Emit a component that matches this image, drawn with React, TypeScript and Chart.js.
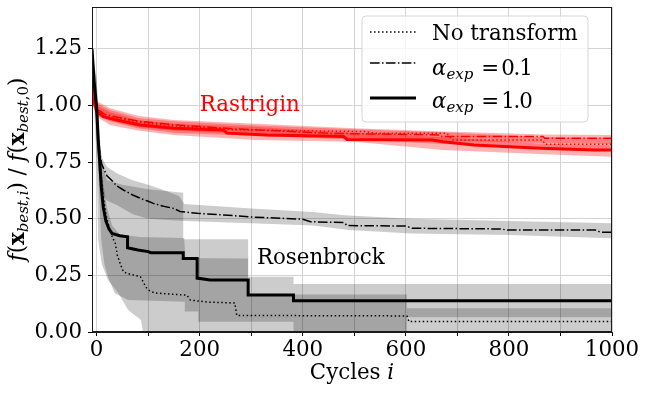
import React, { useEffect, useRef } from 'react';
import { Chart, registerables } from 'chart.js';

Chart.register(...registerables);

const FONT = "'DejaVu Serif', 'Liberation Serif', serif";
const FS = 21.33;
const FS_SUB = 15;

// ---------- axis ticks ----------
const xTickValues = [0, 100, 200, 300, 400, 500, 600, 700, 800, 900, 1000];
const xTickLabels = ['0', '', '200', '', '400', '', '600', '', '800', '', '1000'];
const yTickValues = [0, 0.25, 0.5, 0.75, 1.0, 1.25];
const yTickLabels = ['0.00', '0.25', '0.50', '0.75', '1.00', '1.25'];

// ---------- Rosenbrock (black) ----------
const rosNoX = [-9, -5, 0, 3, 6, 10, 14, 19, 25, 31, 36, 40, 46, 52, 60, 85, 95, 100, 113, 175, 182, 215, 268, 272, 602, 606, 1000];
const rosNoY = [1.25, 1.1, 0.98, 0.87, 0.77, 0.66, 0.58, 0.51, 0.455, 0.415, 0.395, 0.34, 0.3, 0.266, 0.258, 0.244, 0.2, 0.186, 0.172, 0.163, 0.141, 0.132, 0.128, 0.073, 0.071, 0.046, 0.046];

const ros01X = [-9, -5, 0, 3, 6, 10, 20, 30, 39, 52, 70, 85, 100, 110, 130, 149, 162, 195, 246, 298, 400, 415, 480, 486, 600, 612, 784, 797, 968, 978, 1000];
const ros01Y = [1.25, 1.1, 0.96, 0.86, 0.79, 0.74, 0.69, 0.668, 0.645, 0.627, 0.605, 0.59, 0.577, 0.568, 0.555, 0.546, 0.532, 0.524, 0.517, 0.508, 0.498, 0.487, 0.483, 0.47, 0.468, 0.458, 0.455, 0.45, 0.45, 0.44, 0.44];

const rosA1X = [-9, -5, 0, 3, 6, 9, 13, 18, 24, 30, 45, 60, 60, 80, 100, 105, 168, 168, 195, 195, 220, 294, 294, 382, 382, 1000];
const rosA1Y = [1.25, 1.11, 0.99, 0.85, 0.75, 0.64, 0.55, 0.49, 0.455, 0.435, 0.425, 0.42, 0.372, 0.362, 0.355, 0.35, 0.35, 0.325, 0.325, 0.238, 0.23, 0.23, 0.163, 0.163, 0.138, 0.138];

// Rosenbrock spread bands
const ros01UpX = [-9, 0, 5, 10, 20, 40, 70, 100, 130, 160, 170, 300, 420, 480, 610, 800, 1000];
const ros01UpY = [1.25, 1.0, 0.83, 0.77, 0.73, 0.7, 0.67, 0.65, 0.627, 0.6, 0.565, 0.545, 0.53, 0.515, 0.5, 0.49, 0.48];
const ros01LoX = [-9, 0, 5, 10, 20, 40, 70, 100, 170, 300, 420, 490, 610, 800, 1000];
const ros01LoY = [1.25, 0.85, 0.68, 0.62, 0.58, 0.56, 0.52, 0.5, 0.49, 0.48, 0.47, 0.45, 0.435, 0.428, 0.414];

const rosA1UpX = [-9, 0, 5, 10, 20, 50, 100, 168, 168, 294, 294, 382, 382, 1000];
const rosA1UpY = [1.25, 1.12, 0.9, 0.75, 0.67, 0.65, 0.63, 0.615, 0.41, 0.41, 0.244, 0.244, 0.212, 0.212];
const rosA1LoX = [-9, 0, 5, 9, 15, 22, 35, 61, 171, 171, 197, 197, 382, 382, 602, 602, 1000];
const rosA1LoY = [1.25, 0.95, 0.6, 0.406, 0.3, 0.244, 0.171, 0.141, 0.134, 0.09, 0.09, 0.045, 0.045, 0, 0, 0.065, 0.065];

const rosNoUpX = [-9, 0, 5, 10, 20, 30, 45, 84, 170, 172, 294, 294, 382, 382, 602, 602, 1000];
const rosNoUpY = [1.25, 1.1, 0.85, 0.7, 0.55, 0.47, 0.43, 0.42, 0.415, 0.327, 0.325, 0.16, 0.16, 0.166, 0.166, 0.105, 0.105];
const rosNoLoX = [-9, -5, 0, 3, 10, 22, 42, 61, 86, 90, 1000];
const rosNoLoY = [1.25, 1.0, 0.75, 0.406, 0.3, 0.23, 0.172, 0.097, 0.053, 0, 0];

// ---------- Rastrigin (red) ----------
const rasNoX = [-9, -5, 0, 15, 40, 85, 150, 266, 520, 540, 680, 690, 865, 870, 1000];
const rasNoY = [1.115, 1.02, 0.985, 0.96, 0.945, 0.925, 0.91, 0.893, 0.885, 0.878, 0.877, 0.848, 0.848, 0.829, 0.829];
const ras01X = [-9, -5, 0, 15, 40, 85, 150, 266, 454, 667, 670, 866, 870, 1000];
const ras01Y = [1.115, 1.02, 0.985, 0.962, 0.948, 0.93, 0.915, 0.897, 0.877, 0.87, 0.863, 0.863, 0.855, 0.855];
const rasA1X = [-9, -5, 0, 13, 39, 85, 150, 246, 253, 330, 479, 486, 650, 673, 732, 861, 965, 1000];
const rasA1Y = [1.115, 1.01, 0.975, 0.951, 0.936, 0.914, 0.9, 0.892, 0.878, 0.87, 0.863, 0.85, 0.848, 0.84, 0.826, 0.811, 0.804, 0.804];

const rasBandX = [-9, 0, 26, 80, 149, 310, 500, 673, 870, 1000];
const ras01UpY = [1.14, 1.02, 0.988, 0.955, 0.936, 0.92, 0.9, 0.885, 0.872, 0.87];
const ras01LoY = [1.09, 0.96, 0.935, 0.905, 0.89, 0.872, 0.855, 0.845, 0.835, 0.83];
const rasNoUpY = [1.13, 1.01, 0.98, 0.945, 0.93, 0.912, 0.895, 0.882, 0.86, 0.855];
const rasNoLoY = [1.085, 0.955, 0.93, 0.9, 0.88, 0.865, 0.85, 0.83, 0.81, 0.805];
const rasA1UpY = [1.13, 1.0, 0.97, 0.935, 0.92, 0.905, 0.88, 0.86, 0.83, 0.825];
const rasA1LoY = [1.08, 0.95, 0.914, 0.89, 0.87, 0.848, 0.84, 0.804, 0.785, 0.774];

// ---------- annotations ----------
const rastriginLabel = { text: 'Rastrigin', x: 200, y: 0.975 };
const rosenbrockLabel = { text: 'Rosenbrock', x: 311, y: 0.3 };

const X_MIN = -9;
const X_MAX = 1000;
const Y_MIN = 0;
const Y_MAX = 1.435;

const pts = (xs: number[], ys: number[]) => xs.map((x, i) => ({ x, y: ys[i] }));

const DOTTED = [1.5, 2.5];
const DASHDOT = [9.6, 2.4, 1.5, 2.4];

function lineDs(xs: number[], ys: number[], color: string, width: number, dash: number[]) {
  return {
    data: pts(xs, ys),
    borderColor: color,
    borderWidth: width,
    borderDash: dash,
    borderCapStyle: 'butt',
    borderJoinStyle: 'miter',
    pointRadius: 0,
    fill: false,
    tension: 0,
    order: 0,
  };
}

function bandDs(ux: number[], uy: number[], lx: number[], ly: number[], color: string) {
  return [
    {
      data: pts(ux, uy),
      borderColor: 'rgba(0,0,0,0)',
      borderWidth: 0,
      pointRadius: 0,
      backgroundColor: color,
      fill: '+1',
      tension: 0,
      order: 10,
    },
    {
      data: pts(lx, ly),
      borderColor: 'rgba(0,0,0,0)',
      borderWidth: 0,
      pointRadius: 0,
      fill: false,
      tension: 0,
      order: 10,
    },
  ];
}

type Run = { t: string; f: string; dy?: number; ls?: number; gap?: number };

function drawRuns(ctx: CanvasRenderingContext2D, runs: Run[], x: number, y: number, measureOnly = false) {
  let cx = x;
  for (const r of runs) {
    cx += r.gap || 0;
    ctx.font = r.f;
    (ctx as any).letterSpacing = (r.ls || 0) + 'px';
    if (!measureOnly) ctx.fillText(r.t, cx, y + (r.dy || 0));
    cx += ctx.measureText(r.t).width;
  }
  (ctx as any).letterSpacing = '0px';
  return cx - x;
}

const N = `${FS}px ${FONT}`;
const I = `italic ${FS}px ${FONT}`;
const B = `bold ${FS}px ${FONT}`;
const IS = `italic ${FS_SUB}px ${FONT}`;
const NS = `${FS_SUB}px ${FONT}`;

const overlayPlugin = {
  id: 'overlay',
  afterDraw(chart: any) {
    const { ctx, chartArea: a } = chart;
    const xs = chart.scales.x;
    const ys = chart.scales.y;
    ctx.save();
    // frame
    ctx.strokeStyle = '#1a1a1a';
    ctx.lineWidth = 1;
    ctx.setLineDash([]);
    ctx.strokeRect(Math.round(a.left) + 0.5, Math.round(a.top) + 0.5, Math.round(a.right - a.left) - 1, Math.round(a.bottom - a.top) - 1);

    ctx.textBaseline = 'alphabetic';
    ctx.textAlign = 'left';

    // annotations
    ctx.font = N;
    ctx.fillStyle = '#ff0000';
    ctx.fillText(rastriginLabel.text, xs.getPixelForValue(rastriginLabel.x), ys.getPixelForValue(rastriginLabel.y));
    ctx.fillStyle = '#000000';
    ctx.fillText(rosenbrockLabel.text, xs.getPixelForValue(rosenbrockLabel.x), ys.getPixelForValue(rosenbrockLabel.y));

    // legend
    const L = { left: 362, top: 16, right: 588, bottom: 122, r: 4 };
    ctx.beginPath();
    ctx.moveTo(L.left + L.r, L.top);
    ctx.lineTo(L.right - L.r, L.top);
    ctx.arcTo(L.right, L.top, L.right, L.top + L.r, L.r);
    ctx.lineTo(L.right, L.bottom - L.r);
    ctx.arcTo(L.right, L.bottom, L.right - L.r, L.bottom, L.r);
    ctx.lineTo(L.left + L.r, L.bottom);
    ctx.arcTo(L.left, L.bottom, L.left, L.bottom - L.r, L.r);
    ctx.lineTo(L.left, L.top + L.r);
    ctx.arcTo(L.left, L.top, L.left + L.r, L.top, L.r);
    ctx.closePath();
    ctx.fillStyle = 'rgba(255,255,255,0.8)';
    ctx.fill();
    ctx.strokeStyle = '#d6d6d6';
    ctx.lineWidth = 1;
    ctx.stroke();

    const alphaRuns = (val: string): Run[] => [
      { t: 'α', f: I },
      { t: 'exp', f: IS, dy: 4 },
      { t: '=', f: N, gap: 8 },
      { t: val, f: N, ls: -1.2, gap: 2 },
    ];
    const rows = [
      { y: 32, w: 1.5, dash: DOTTED, base: 39.5, runs: [{ t: 'No transform', f: N }] as Run[] },
      { y: 63, w: 1.5, dash: DASHDOT, base: 74.5, runs: alphaRuns('0.1') },
      { y: 98, w: 3, dash: [] as number[], base: 107.5, runs: alphaRuns('1.0') },
    ];
    ctx.fillStyle = '#000';
    for (const r of rows) {
      ctx.beginPath();
      ctx.setLineDash(r.dash);
      ctx.lineWidth = r.w;
      ctx.strokeStyle = '#000';
      ctx.moveTo(370, r.y);
      ctx.lineTo(416, r.y);
      ctx.stroke();
      ctx.setLineDash([]);
      drawRuns(ctx, r.runs, 432, r.base);
    }

    // x axis title
    const xt: Run[] = [{ t: 'Cycles ', f: N }, { t: 'i', f: I }];
    const xw = drawRuns(ctx, xt, 0, 0, true);
    drawRuns(ctx, xt, (a.left + a.right) / 2 - xw / 2, 379);

    // y axis title (rotated)
    const yt: Run[] = [
      { t: 'f', f: I }, { t: '(', f: N }, { t: 'x', f: B }, { t: 'best', f: IS, dy: 4 }, { t: ',', f: NS, dy: 4 }, { t: 'i', f: IS, dy: 4 }, { t: ')', f: N },
      { t: ' / ', f: N },
      { t: 'f', f: I }, { t: '(', f: N }, { t: 'x', f: B }, { t: 'best', f: IS, dy: 4 }, { t: ',', f: NS, dy: 4 }, { t: '0', f: NS, dy: 4 }, { t: ')', f: N },
    ];
    const yw = drawRuns(ctx, yt, 0, 0, true);
    ctx.translate(24, (a.top + a.bottom) / 2);
    ctx.rotate(-Math.PI / 2);
    drawRuns(ctx, yt, -yw / 2, 0);
    ctx.restore();
  },
};

export default function App() {
  const ref = useRef<HTMLCanvasElement | null>(null);
  useEffect(() => {
    if (!ref.current) return;
    const RED_BAND = 'rgba(255,0,0,0.3)';
    const GRAY_BAND = 'rgba(0,0,0,0.2)';
    const datasets: any[] = [
      lineDs(rosA1X, rosA1Y, '#000000', 3, []),
      lineDs(ros01X, ros01Y, '#000000', 1.5, DASHDOT),
      lineDs(rosNoX, rosNoY, '#000000', 1.5, DOTTED),
      lineDs(rasA1X, rasA1Y, '#ff0000', 3, []),
      lineDs(ras01X, ras01Y, '#ff0000', 1.5, DASHDOT),
      lineDs(rasNoX, rasNoY, '#ff0000', 1.5, DOTTED),
      ...bandDs(rasBandX, ras01UpY, rasBandX, ras01LoY, RED_BAND),
      ...bandDs(rasBandX, rasNoUpY, rasBandX, rasNoLoY, RED_BAND),
      ...bandDs(rasBandX, rasA1UpY, rasBandX, rasA1LoY, RED_BAND),
      ...bandDs(ros01UpX, ros01UpY, ros01LoX, ros01LoY, GRAY_BAND),
      ...bandDs(rosA1UpX, rosA1UpY, rosA1LoX, rosA1LoY, GRAY_BAND),
      ...bandDs(rosNoUpX, rosNoUpY, rosNoLoX, rosNoLoY, GRAY_BAND),
    ];
    const chart = new Chart(ref.current, {
      type: 'line',
      data: { datasets },
      options: {
        animation: false,
        responsive: false,
        maintainAspectRatio: false,
        parsing: false,
        normalized: true,
        layout: { padding: { top: 7, right: 34, left: 0, bottom: 0 } },
        plugins: {
          legend: { display: false },
          tooltip: { enabled: false },
          filler: { propagate: false, drawTime: 'beforeDatasetsDraw' },
        },
        scales: {
          x: {
            type: 'linear',
            min: X_MIN,
            max: X_MAX,
            afterBuildTicks: (s: any) => {
              s.ticks = xTickValues.map((v) => ({ value: v }));
            },
            afterFit: (s: any) => {
              s.height = 61;
              s.paddingLeft = 0;
              s.paddingRight = 0;
            },
            ticks: {
              autoSkip: false,
              maxRotation: 0,
              padding: 2,
              color: '#000',
              font: { family: FONT, size: FS },
              callback: (_v: any, i: number) => xTickLabels[i],
            },
            grid: { color: '#d3d3d3', lineWidth: 1, tickColor: '#000', tickLength: 4, drawTicks: true },
            border: { display: true, color: '#1a1a1a' },
          },
          y: {
            type: 'linear',
            min: Y_MIN,
            max: Y_MAX,
            afterBuildTicks: (s: any) => {
              s.ticks = yTickValues.map((v) => ({ value: v }));
            },
            afterFit: (s: any) => {
              s.width = 92;
              s.paddingTop = 0;
              s.paddingBottom = 0;
            },
            ticks: {
              autoSkip: false,
              padding: 6,
              color: '#000',
              font: { family: FONT, size: FS },
              callback: (_v: any, i: number) => yTickLabels[i],
            },
            grid: { color: '#d3d3d3', lineWidth: 1, tickColor: '#000', tickLength: 4, drawTicks: true },
            border: { display: true, color: '#1a1a1a' },
          },
        },
      } as any,
      plugins: [overlayPlugin],
    });
    return () => chart.destroy();
  }, []);
  return (
    <div style={{ position: 'absolute', left: 0, top: 0, width: 646, height: 393, background: '#fff' }}>
      <canvas ref={ref} width={646} height={393} style={{ width: 646, height: 393, display: 'block' }} />
    </div>
  );
}
